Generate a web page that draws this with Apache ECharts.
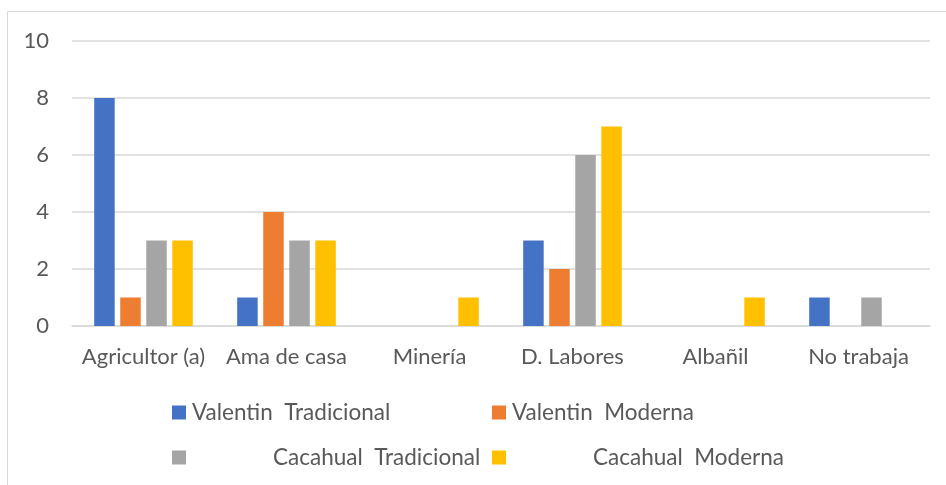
<!DOCTYPE html>
<html>
<head>
<meta charset="utf-8">
<script src="https://cdn.jsdelivr.net/npm/echarts@6/dist/echarts.min.js"></script>
<style>
  html, body { margin: 0; padding: 0; background: #fff; }
  #chart { width: 946px; height: 485px; }
</style>
</head>
<body>
<div id="chart"></div>
<script>
const categories = ['Agricultor (a)', 'Ama de casa', 'Minería', 'D. Labores', 'Albañil', 'No trabaja']
const seriesNames = ['Valentin  Tradicional', 'Valentin  Moderna', 'Cacahual  Tradicional', 'Cacahual  Moderna']
const valentinTradicional = [8, 1, null, 3, null, 1]
const valentinModerna = [1, 4, null, 2, null, null]
const cacahualTradicional = [3, 3, null, 6, null, 1]
const cacahualModerna = [3, 3, 1, 7, 1, null]
const colors = ['#4472C4', '#ED7D31', '#A5A5A5', '#FFC000']

const chart = echarts.init(document.getElementById('chart'))
const font = 'Lato, "Liberation Sans", sans-serif'

// una leyenda por elemento, para imitar el acomodo de Excel
const legendPos = [
  { left: 172, top: 401, pad: 1 },
  { left: 492, top: 401, pad: 1 },
  { left: 172, top: 446, pad: 82 },
  { left: 492, top: 446, pad: 82 }
]

const option = {
  animation: false,
  color: colors,
  textStyle: { fontFamily: font },
  graphic: [{
    type: 'rect',
    shape: { x: 7.5, y: 11.5, width: 1000, height: 600 },
    style: { fill: 'none', stroke: '#d9d9d9', lineWidth: 1 },
    silent: true
  }],
  legend: legendPos.map((p, i) => ({
    data: [seriesNames[i]],
    left: p.left,
    top: p.top,
    padding: 0,
    itemWidth: 14,
    itemHeight: 14,
    icon: 'rect',
    textStyle: { color: '#595959', fontSize: 22.5, fontFamily: font, padding: [0, 0, 0, p.pad] }
  })),
  grid: { left: 72, right: 16, top: 41, bottom: 159 },
  xAxis: {
    type: 'category',
    data: categories,
    axisLine: { lineStyle: { color: '#d9d9d9', width: 1.5 } },
    axisTick: { show: false },
    axisLabel: { color: '#595959', fontSize: 22, margin: 20, interval: 0, fontFamily: font }
  },
  yAxis: {
    type: 'value',
    min: 0,
    max: 10,
    interval: 2,
    axisLine: { show: false },
    axisTick: { show: false },
    axisLabel: { color: '#595959', fontSize: 22, margin: 23, fontFamily: font },
    splitLine: { lineStyle: { color: '#d9d9d9', width: 1.5 } }
  },
  series: [valentinTradicional, valentinModerna, cacahualTradicional, cacahualModerna].map((d, i) => ({
    name: seriesNames[i],
    type: 'bar',
    data: d,
    barWidth: 20.5,
    barGap: '27%'
  }))
}

chart.setOption(option)
</script>
</body>
</html>
